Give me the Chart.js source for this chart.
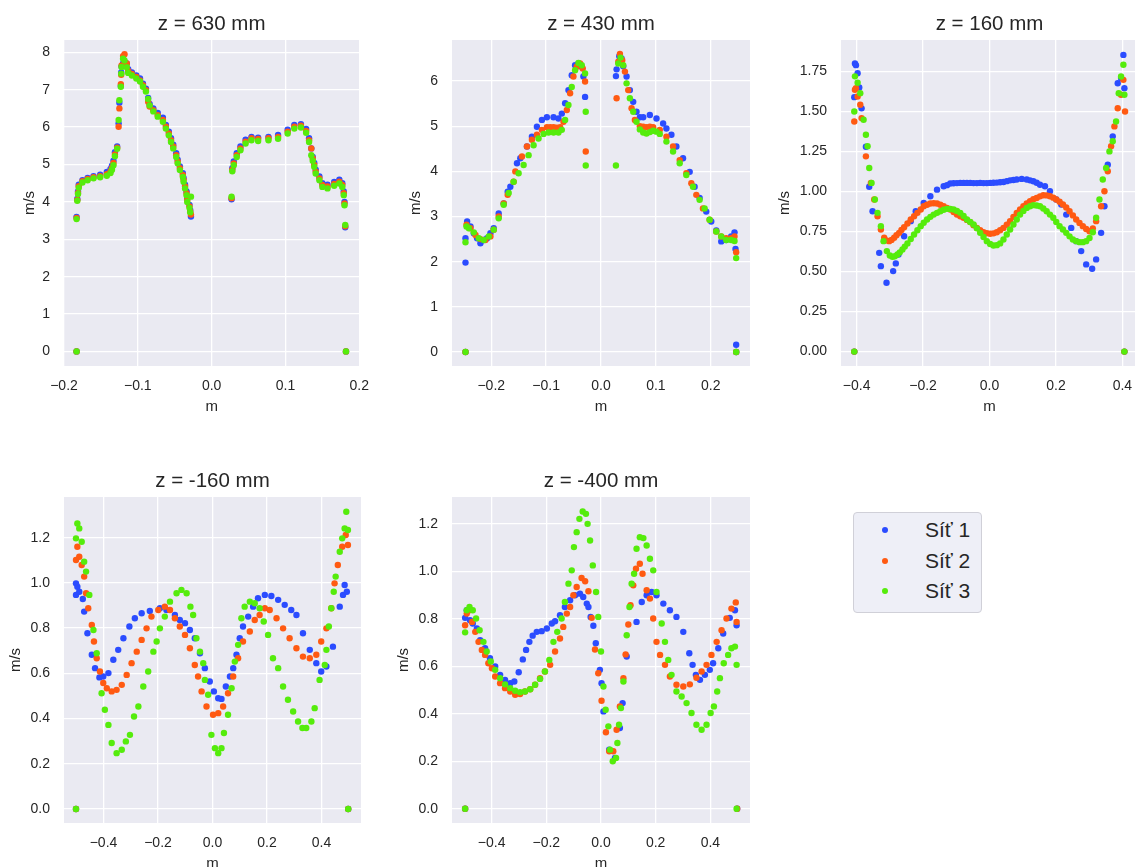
<!DOCTYPE html>
<html>
<head>
<meta charset="utf-8">
<script src="https://cdn.jsdelivr.net/npm/chart.js@4.4.1/dist/chart.umd.min.js"></script>
<style>
  html, body { margin:0; padding:0; background:#ffffff; width:1135px; height:867px; overflow:hidden; position:relative; }
  canvas { position:absolute; }
  #legend { position:absolute; left:853px; top:512px; width:127px; height:99px; border:1px solid #d0d0d8; border-radius:4px; background:#eeeff7; font-family:"Liberation Sans", Arial, sans-serif; color:#262626; }
  .li { position:absolute; left:0; height:30px; width:127px; }
  .dot { position:absolute; left:28px; width:6px; height:6px; border-radius:50%; top:12px; }
  .lt { position:absolute; left:71px; top:2px; font-size:21px; line-height:26px; }
</style>
</head>
<body>
<canvas id="c1" width="381" height="416" style="left:0px;top:0px"></canvas>
<canvas id="c2" width="388" height="416" style="left:382px;top:0px"></canvas>
<canvas id="c3" width="387" height="416" style="left:771px;top:0px"></canvas>
<canvas id="c4" width="381" height="416" style="left:0px;top:457px"></canvas>
<canvas id="c5" width="388" height="416" style="left:382px;top:457px"></canvas>
<div id="legend">
  <div class="li" style="top:2px"><div class="dot" style="background:#2b4cff"></div><div class="lt">Síť 1</div></div>
  <div class="li" style="top:33px"><div class="dot" style="background:#ff5a12"></div><div class="lt">Síť 2</div></div>
  <div class="li" style="top:63px"><div class="dot" style="background:#55ec0c"></div><div class="lt">Síť 3</div></div>
</div>
<script>
// ---------- series names & colours ----------
const seriesNames = ["Síť 1", "Síť 2", "Síť 3"];
const seriesColors = ["#2b4cff", "#ff5a12", "#55ec0c"];

// ---------- panel titles & ticks ----------
const panelTitles = ["z = 630 mm", "z = 430 mm", "z = 160 mm", "z = -160 mm", "z = -400 mm"];
const xTicksA = [-0.2, -0.1, 0, 0.1, 0.2];
const xTickLabelsA = ["\u22120.2", "\u22120.1", "0.0", "0.1", "0.2"];
const xTicksB = [-0.4, -0.2, 0, 0.2, 0.4];
const xTickLabelsB = ["\u22120.4", "\u22120.2", "0.0", "0.2", "0.4"];
const yTicks1 = [0, 1, 2, 3, 4, 5, 6, 7, 8];
const yTickLabels1 = ["0", "1", "2", "3", "4", "5", "6", "7", "8"];
const yTicks2 = [0, 1, 2, 3, 4, 5, 6];
const yTickLabels2 = ["0", "1", "2", "3", "4", "5", "6"];
const yTicks3 = [0, 0.25, 0.5, 0.75, 1.0, 1.25, 1.5, 1.75];
const yTickLabels3 = ["0.00", "0.25", "0.50", "0.75", "1.00", "1.25", "1.50", "1.75"];
const yTicks45 = [0, 0.2, 0.4, 0.6, 0.8, 1.0, 1.2];
const yTickLabels45 = ["0.0", "0.2", "0.4", "0.6", "0.8", "1.0", "1.2"];

// ---------- panel 1: z = 630 mm ----------
const p1X = [-0.183,-0.183,-0.182,-0.181,-0.180,-0.175,-0.168,-0.160,-0.151,-0.142,-0.137,-0.135,-0.133,-0.131,-0.128,-0.126,-0.125,-0.123,-0.1225,-0.122,-0.120,-0.118,-0.115,-0.113,-0.108,-0.102,-0.097,-0.093,-0.089,-0.086,-0.084,-0.079,-0.073,-0.066,-0.062,-0.058,-0.055,-0.052,-0.048,-0.046,-0.043,-0.039,-0.038,-0.036,-0.034,-0.033,-0.030,-0.029,-0.028,
  0.027,0.028,0.030,0.034,0.039,0.046,0.054,0.063,0.077,0.090,0.103,0.112,0.121,0.128,0.132,0.135,0.137,0.139,0.141,0.146,0.150,0.157,0.166,0.173,0.177,0.179,0.180,0.181,0.182];
const p1Blue = [0,3.60,4.08,4.28,4.46,4.58,4.64,4.69,4.73,4.80,4.88,4.97,5.10,5.33,5.48,6.10,6.65,7.10,7.46,7.62,7.70,7.75,7.70,7.55,7.46,7.38,7.30,7.16,7.03,6.78,6.62,6.50,6.38,6.25,6.06,5.88,5.70,5.53,5.30,5.13,4.95,4.77,4.64,4.46,4.28,4.10,3.92,3.78,3.61,
  4.07,4.90,5.08,5.30,5.48,5.66,5.74,5.72,5.74,5.79,5.93,6.06,6.08,5.95,5.70,5.43,5.20,5.04,4.86,4.68,4.50,4.46,4.53,4.59,4.50,4.28,4.00,3.32,0];
const p1Orange = [0,3.57,4.05,4.24,4.42,4.55,4.61,4.66,4.69,4.74,4.82,4.91,5.04,5.27,5.45,6.01,6.50,7.15,7.40,7.65,7.90,7.95,7.70,7.50,7.42,7.34,7.25,7.12,6.99,6.68,6.55,6.45,6.32,6.19,6.01,5.83,5.65,5.48,5.25,5.08,4.90,4.72,4.59,4.41,4.23,4.05,3.88,3.74,3.66,
  4.10,4.86,5.03,5.25,5.43,5.61,5.70,5.68,5.70,5.74,5.88,6.01,6.04,5.90,5.65,5.43,5.16,4.99,4.81,4.63,4.45,4.41,4.48,4.54,4.45,4.23,3.96,3.35,0];
const p1Green = [0,3.54,4.03,4.21,4.38,4.52,4.58,4.63,4.66,4.70,4.77,4.86,4.98,5.22,5.42,6.19,6.72,7.08,7.43,7.61,7.83,7.78,7.60,7.45,7.38,7.30,7.22,7.08,6.95,6.75,6.58,6.42,6.28,6.14,5.96,5.78,5.60,5.43,5.20,5.03,4.85,4.67,4.54,4.36,4.18,4.00,3.84,3.72,4.14,
  4.14,4.82,4.98,5.20,5.38,5.56,5.65,5.63,5.65,5.69,5.83,5.96,5.99,5.85,5.60,5.25,5.10,4.94,4.76,4.58,4.40,4.36,4.43,4.49,4.40,4.18,3.91,3.38,0];

// ---------- panel 2: z = 430 mm ----------
const p2BlueX = [-0.2469,-0.2469,-0.2469,-0.2439,-0.2378,-0.2318,-0.2257,-0.2197,-0.2136,-0.2076,-0.2015,-0.1955,-0.1864,-0.1773,-0.1700,-0.1652,-0.1531,-0.1470,-0.1349,-0.1259,-0.1168,-0.1077,-0.0986,-0.0865,-0.0775,-0.0714,-0.0654,-0.0593,-0.0533,-0.0472,-0.0411,-0.0351,-0.0321,-0.0290,
  0.0272,0.0284,0.0333,0.0375,0.0405,0.0466,0.0526,0.0587,0.0647,0.0708,0.0769,0.0890,0.1011,0.1132,0.1192,0.1283,0.1374,0.1495,0.1616,0.1706,0.1797,0.1918,0.2009,0.2100,0.2191,0.2281,0.2372,0.2433,0.2451,0.2463,0.2463];
const p2BlueY = [0,1.98,2.52,2.89,2.78,2.63,2.52,2.41,2.48,2.52,2.63,2.74,3.07,3.29,3.55,3.66,4.18,4.29,4.55,4.77,4.99,5.14,5.20,5.20,5.17,5.28,5.51,5.80,6.13,6.35,6.39,6.32,6.10,5.65,
  6.11,6.26,6.55,6.50,6.33,6.10,5.80,5.54,5.32,5.20,5.20,5.25,5.17,5.06,4.95,4.81,4.55,4.29,3.99,3.66,3.41,3.11,2.89,2.69,2.45,2.48,2.56,2.65,2.28,0.16,0];
const p2OrangeX = [-0.2469,-0.2451,-0.2378,-0.2287,-0.2197,-0.2106,-0.2015,-0.1955,-0.1864,-0.1773,-0.1700,-0.1592,-0.1561,-0.1440,-0.1349,-0.1259,-0.1168,-0.1077,-0.0986,-0.0925,-0.0865,-0.0805,-0.0744,-0.0684,-0.0623,-0.0563,-0.0502,-0.0442,-0.0381,-0.0333,-0.0290,-0.0278,
  0.0284,0.0315,0.0345,0.0387,0.0436,0.0496,0.0557,0.0617,0.0708,0.0769,0.0829,0.0890,0.0950,0.1071,0.1192,0.1313,0.1434,0.1555,0.1646,0.1737,0.1858,0.1979,0.2100,0.2191,0.2281,0.2372,0.2433,0.2463,0.2463];
const p2OrangeY = [0,2.82,2.74,2.59,2.50,2.48,2.56,2.71,3.00,3.29,3.48,3.77,4.00,4.33,4.55,4.70,4.81,4.92,4.98,4.98,4.98,4.97,4.98,5.10,5.36,5.73,6.10,6.32,6.39,6.28,5.99,4.44,
  5.62,6.43,6.60,6.46,6.21,5.80,5.40,5.14,5.00,4.99,4.98,4.99,4.98,4.92,4.77,4.55,4.25,3.96,3.74,3.48,3.18,2.93,2.67,2.56,2.52,2.52,2.56,2.21,0];
const p2GreenX = [-0.2469,-0.2469,-0.2451,-0.2408,-0.2318,-0.2227,-0.2136,-0.2045,-0.1955,-0.1864,-0.1773,-0.1682,-0.1592,-0.1501,-0.1410,-0.1319,-0.1228,-0.1138,-0.1047,-0.0956,-0.0865,-0.0775,-0.0714,-0.0654,-0.0593,-0.0533,-0.0472,-0.0411,-0.0351,-0.0290,-0.0278,-0.0278,
  0.0272,0.0315,0.0357,0.0405,0.0466,0.0526,0.0587,0.0647,0.0708,0.0769,0.0829,0.0890,0.0950,0.1011,0.1071,0.1192,0.1313,0.1434,0.1555,0.1676,0.1797,0.1888,0.1979,0.2100,0.2191,0.2281,0.2372,0.2433,0.2463,0.2463];
const p2GreenY = [0,2.43,2.78,2.74,2.65,2.52,2.48,2.56,2.71,2.96,3.26,3.52,3.77,3.96,4.14,4.36,4.58,4.73,4.83,4.86,4.86,4.86,4.92,5.14,5.47,5.87,6.24,6.40,6.35,6.17,5.32,4.13,
  4.13,6.39,6.52,6.35,5.95,5.62,5.32,5.10,4.93,4.86,4.84,4.87,4.90,4.88,4.83,4.66,4.44,4.18,3.92,3.66,3.37,3.18,2.93,2.67,2.56,2.48,2.48,2.46,2.08,0];

// ---------- panel 3: z = 160 mm ----------
const p3BlueX = [-0.407,-0.407,-0.405,-0.402,-0.397,-0.392,-0.385,-0.372,-0.362,-0.352,-0.332,-0.327,-0.310,-0.290,-0.282,-0.274,-0.257,-0.237,-0.222,-0.198,-0.178,-0.158,-0.138,-0.128,-0.118,-0.108,-0.098,-0.088,-0.078,-0.068,-0.058,-0.048,-0.038,-0.028,-0.018,-0.008,0.002,0.012,0.022,0.032,0.042,0.052,0.062,0.072,0.082,0.097,0.112,0.122,0.132,0.142,0.152,0.167,0.182,0.201,0.216,0.231,0.246,0.261,0.276,0.291,0.309,0.321,0.336,0.346,0.356,0.371,0.386,0.396,0.403,0.406,0.406];
const p3BlueY = [0,1.59,1.80,1.79,1.74,1.65,1.52,1.28,1.03,0.877,0.617,0.534,0.43,0.503,0.551,0.607,0.721,0.815,0.877,0.929,0.971,1.012,1.033,1.040,1.050,1.052,1.053,1.054,1.054,1.054,1.054,1.053,1.053,1.054,1.053,1.053,1.054,1.055,1.056,1.058,1.060,1.065,1.070,1.072,1.075,1.079,1.075,1.070,1.064,1.055,1.043,1.033,1.002,0.95,0.919,0.856,0.773,0.69,0.628,0.545,0.518,0.576,0.742,0.908,1.168,1.345,1.677,1.709,1.854,1.646,0];
const p3OrangeX = [-0.407,-0.407,-0.405,-0.402,-0.397,-0.389,-0.385,-0.372,-0.357,-0.347,-0.337,-0.327,-0.317,-0.310,-0.302,-0.295,-0.287,-0.280,-0.272,-0.265,-0.257,-0.247,-0.237,-0.227,-0.217,-0.207,-0.198,-0.188,-0.178,-0.168,-0.158,-0.148,-0.138,-0.128,-0.118,-0.108,-0.098,-0.088,-0.078,-0.068,-0.058,-0.048,-0.038,-0.028,-0.018,-0.008,0.002,0.012,0.022,0.032,0.042,0.052,0.062,0.072,0.082,0.092,0.102,0.112,0.122,0.132,0.142,0.152,0.162,0.172,0.182,0.192,0.201,0.211,0.221,0.231,0.241,0.251,0.261,0.271,0.281,0.291,0.301,0.311,0.321,0.336,0.346,0.356,0.366,0.376,0.386,0.396,0.403,0.408,0.406];
const p3OrangeY = [0,1.438,1.636,1.646,1.594,1.542,1.459,1.22,1.054,0.95,0.846,0.763,0.711,0.695,0.69,0.698,0.711,0.727,0.742,0.760,0.777,0.800,0.825,0.846,0.867,0.888,0.908,0.918,0.925,0.927,0.925,0.918,0.908,0.898,0.888,0.872,0.856,0.846,0.836,0.823,0.809,0.790,0.773,0.758,0.746,0.740,0.736,0.739,0.746,0.758,0.773,0.793,0.815,0.842,0.867,0.888,0.908,0.925,0.94,0.952,0.96,0.970,0.977,0.976,0.971,0.962,0.95,0.936,0.919,0.900,0.877,0.851,0.825,0.804,0.784,0.766,0.752,0.770,0.815,0.908,1.002,1.127,1.283,1.407,1.521,1.605,1.698,1.50,0];
const p3GreenX = [-0.407,-0.407,-0.405,-0.397,-0.389,-0.379,-0.372,-0.367,-0.362,-0.355,-0.345,-0.337,-0.327,-0.319,-0.309,-0.300,-0.292,-0.285,-0.277,-0.270,-0.262,-0.255,-0.247,-0.237,-0.227,-0.217,-0.207,-0.198,-0.188,-0.178,-0.168,-0.158,-0.148,-0.138,-0.128,-0.118,-0.108,-0.098,-0.088,-0.078,-0.068,-0.058,-0.048,-0.038,-0.028,-0.018,-0.008,0.002,0.012,0.022,0.032,0.042,0.052,0.062,0.072,0.082,0.092,0.102,0.112,0.122,0.132,0.142,0.152,0.162,0.172,0.182,0.192,0.201,0.211,0.221,0.231,0.241,0.251,0.261,0.271,0.281,0.291,0.301,0.311,0.321,0.331,0.341,0.351,0.361,0.371,0.381,0.389,0.396,0.403,0.406,0.406];
const p3GreenY = [0,1.50,1.72,1.68,1.615,1.449,1.355,1.283,1.147,1.054,0.95,0.867,0.784,0.69,0.628,0.600,0.592,0.596,0.607,0.620,0.638,0.656,0.676,0.704,0.732,0.758,0.784,0.805,0.825,0.842,0.856,0.867,0.877,0.886,0.892,0.891,0.888,0.879,0.867,0.848,0.825,0.810,0.794,0.770,0.742,0.716,0.69,0.672,0.663,0.665,0.676,0.700,0.732,0.763,0.794,0.825,0.856,0.879,0.898,0.908,0.915,0.913,0.908,0.894,0.877,0.856,0.836,0.810,0.784,0.763,0.742,0.720,0.70,0.690,0.684,0.684,0.69,0.710,0.746,0.836,0.95,1.075,1.147,1.251,1.314,1.438,1.615,1.719,1.792,1.605,0];

// ---------- panel 4: z = -160 mm ----------
const p4BlueX = [-0.501,-0.501,-0.496,-0.501,-0.489,-0.476,-0.471,-0.459,-0.443,-0.431,-0.415,-0.401,-0.382,-0.364,-0.346,-0.327,-0.305,-0.285,-0.260,-0.230,-0.193,-0.169,-0.138,-0.120,-0.101,-0.083,-0.065,-0.046,-0.028,-0.010,0.005,0.021,0.033,0.049,0.064,0.076,0.088,0.100,0.112,0.131,0.149,0.167,0.192,0.216,0.241,0.265,0.289,0.308,0.332,0.357,0.381,0.399,0.418,0.442,0.467,0.479,0.485,0.493,0.498];
const p4BlueY = [0,0.998,0.983,0.947,0.961,0.929,0.873,0.777,0.682,0.623,0.582,0.586,0.601,0.66,0.704,0.755,0.807,0.844,0.866,0.876,0.888,0.88,0.858,0.836,0.822,0.792,0.755,0.689,0.623,0.564,0.52,0.49,0.487,0.542,0.586,0.623,0.682,0.755,0.807,0.851,0.895,0.932,0.947,0.942,0.925,0.903,0.88,0.858,0.777,0.704,0.645,0.608,0.63,0.718,0.895,0.947,0.991,0.961,0];
const p4OrangeX = [-0.501,-0.501,-0.496,-0.489,-0.480,-0.471,-0.464,-0.456,-0.443,-0.435,-0.425,-0.413,-0.401,-0.388,-0.370,-0.352,-0.333,-0.315,-0.297,-0.278,-0.260,-0.242,-0.224,-0.199,-0.175,-0.156,-0.138,-0.120,-0.101,-0.083,-0.065,-0.053,-0.040,-0.022,0.002,0.021,0.039,0.057,0.076,0.094,0.112,0.137,0.155,0.173,0.192,0.210,0.235,0.259,0.283,0.308,0.332,0.357,0.381,0.399,0.418,0.436,0.448,0.460,0.476,0.489,0.497,0.498];
const p4OrangeY = [0,1.101,1.16,1.116,1.079,1.028,0.954,0.888,0.814,0.741,0.667,0.608,0.557,0.534,0.52,0.527,0.549,0.593,0.645,0.696,0.748,0.799,0.851,0.88,0.895,0.88,0.844,0.807,0.77,0.711,0.637,0.586,0.52,0.453,0.417,0.424,0.453,0.512,0.586,0.667,0.741,0.785,0.836,0.858,0.888,0.88,0.844,0.799,0.755,0.711,0.674,0.667,0.682,0.741,0.799,0.888,0.998,1.079,1.16,1.212,1.168,0];
const p4GreenX = [-0.501,-0.501,-0.496,-0.489,-0.480,-0.471,-0.464,-0.452,-0.437,-0.425,-0.407,-0.395,-0.382,-0.370,-0.352,-0.333,-0.318,-0.303,-0.288,-0.272,-0.254,-0.236,-0.217,-0.205,-0.193,-0.175,-0.156,-0.132,-0.114,-0.095,-0.081,-0.071,-0.059,-0.046,-0.034,-0.028,-0.016,-0.004,0.009,0.021,0.033,0.042,0.057,0.070,0.082,0.094,0.106,0.118,0.137,0.155,0.173,0.188,0.204,0.222,0.241,0.259,0.277,0.296,0.314,0.330,0.344,0.363,0.375,0.393,0.412,0.418,0.427,0.436,0.445,0.452,0.467,0.476,0.485,0.491,0.497,0.498];
const p4GreenY = [0,1.197,1.263,1.241,1.182,1.094,1.05,0.947,0.792,0.689,0.512,0.439,0.372,0.292,0.247,0.262,0.299,0.328,0.409,0.453,0.542,0.608,0.696,0.741,0.799,0.851,0.917,0.954,0.969,0.954,0.895,0.858,0.755,0.696,0.645,0.571,0.505,0.328,0.269,0.247,0.269,0.336,0.417,0.534,0.652,0.726,0.844,0.895,0.917,0.91,0.888,0.829,0.77,0.667,0.623,0.542,0.483,0.431,0.387,0.358,0.358,0.387,0.446,0.571,0.637,0.704,0.807,0.888,0.961,1.028,1.138,1.197,1.241,1.315,1.234,0];

// ---------- panel 5: z = -400 mm ----------
const p5BlueX = [-0.497,-0.497,-0.491,-0.479,-0.469,-0.454,-0.442,-0.424,-0.406,-0.387,-0.369,-0.351,-0.332,-0.317,-0.301,-0.286,-0.274,-0.262,-0.250,-0.235,-0.217,-0.198,-0.180,-0.168,-0.150,-0.132,-0.113,-0.095,-0.077,-0.065,-0.052,-0.046,-0.038,-0.028,-0.019,-0.004,0.002,0.009,0.030,0.051,0.069,0.079,0.094,0.130,0.149,0.167,0.185,0.203,0.228,0.252,0.276,0.301,0.323,0.335,0.347,0.362,0.380,0.398,0.410,0.429,0.447,0.471,0.490,0.496,0.498];
const p5BlueY = [0,0.804,0.836,0.794,0.78,0.759,0.71,0.676,0.634,0.599,0.564,0.543,0.529,0.536,0.575,0.629,0.669,0.703,0.729,0.745,0.748,0.759,0.78,0.79,0.815,0.85,0.878,0.899,0.906,0.892,0.864,0.85,0.808,0.771,0.697,0.585,0.529,0.41,0.249,0.214,0.34,0.445,0.641,0.787,0.871,0.899,0.913,0.899,0.864,0.836,0.808,0.745,0.655,0.606,0.564,0.543,0.564,0.585,0.613,0.676,0.738,0.804,0.836,0.773,0];
const p5OrangeX = [-0.497,-0.497,-0.491,-0.481,-0.472,-0.460,-0.448,-0.436,-0.424,-0.412,-0.399,-0.387,-0.369,-0.351,-0.332,-0.314,-0.296,-0.278,-0.259,-0.241,-0.223,-0.205,-0.186,-0.168,-0.150,-0.138,-0.125,-0.113,-0.101,-0.089,-0.071,-0.058,-0.046,-0.034,-0.022,-0.010,0.002,0.018,0.030,0.045,0.057,0.069,0.082,0.090,0.100,0.108,0.118,0.128,0.142,0.152,0.167,0.179,0.191,0.203,0.216,0.234,0.252,0.276,0.301,0.325,0.349,0.368,0.386,0.404,0.423,0.441,0.459,0.477,0.493,0.496,0.498];
const p5OrangeY = [0,0.773,0.822,0.836,0.787,0.745,0.703,0.669,0.648,0.613,0.592,0.557,0.529,0.508,0.494,0.48,0.483,0.494,0.503,0.522,0.55,0.578,0.606,0.662,0.717,0.766,0.822,0.85,0.899,0.934,0.972,0.958,0.916,0.804,0.671,0.571,0.455,0.322,0.242,0.242,0.333,0.431,0.55,0.65,0.776,0.857,0.941,1.011,1.032,0.99,0.92,0.885,0.801,0.703,0.648,0.606,0.557,0.522,0.515,0.524,0.552,0.578,0.606,0.648,0.703,0.752,0.801,0.843,0.869,0.787,0];
const p5GreenX = [-0.497,-0.497,-0.491,-0.481,-0.469,-0.457,-0.444,-0.430,-0.418,-0.403,-0.387,-0.369,-0.351,-0.332,-0.314,-0.296,-0.278,-0.259,-0.241,-0.223,-0.205,-0.189,-0.174,-0.160,-0.144,-0.132,-0.119,-0.107,-0.099,-0.089,-0.079,-0.067,-0.055,-0.049,-0.040,-0.030,-0.018,-0.010,0.000,0.009,0.017,0.027,0.033,0.043,0.055,0.060,0.066,0.073,0.082,0.094,0.104,0.112,0.121,0.130,0.142,0.155,0.167,0.179,0.191,0.203,0.222,0.234,0.246,0.258,0.276,0.295,0.313,0.331,0.349,0.368,0.386,0.401,0.413,0.425,0.435,0.449,0.465,0.477,0.490,0.496,0.496];
const p5GreenY = [0,0.743,0.836,0.85,0.836,0.801,0.752,0.703,0.662,0.62,0.585,0.55,0.524,0.508,0.497,0.491,0.494,0.503,0.522,0.547,0.578,0.627,0.703,0.745,0.801,0.871,0.948,1.004,1.102,1.165,1.221,1.252,1.242,1.2,1.13,1.025,0.913,0.808,0.662,0.515,0.417,0.347,0.249,0.2,0.214,0.277,0.354,0.424,0.536,0.731,0.85,0.948,0.99,1.095,1.144,1.14,1.109,1.053,1.004,0.913,0.78,0.703,0.627,0.564,0.494,0.473,0.445,0.403,0.354,0.333,0.354,0.403,0.431,0.494,0.55,0.613,0.648,0.676,0.683,0.606,0];

// ---------- helpers ----------
const FONT = '"Liberation Sans", Arial, Helvetica, sans-serif';
const TXT = '#262626';
function pts(xs, ys) { return xs.map((x, i) => ({ x: x, y: ys[i] })); }

const bgPlugin = {
  id: 'plotBg',
  beforeDraw(chart) {
    const a = chart.chartArea; const ctx = chart.ctx;
    ctx.save(); ctx.fillStyle = '#eaeaf2';
    ctx.fillRect(a.left, a.top, a.right - a.left, a.bottom - a.top);
    ctx.restore();
  }
};

function makePanel(id, title, series, xr, yr, xT, xL, yT, yL, yAxisW, yTitlePad) {
  const datasets = series.map((s, i) => ({
    label: seriesNames[i],
    data: s,
    backgroundColor: seriesColors[i],
    borderWidth: 0,
    pointRadius: 3.2,
    pointHoverRadius: 3.2,
    showLine: false,
    order: 3 - i
  }));
  new Chart(document.getElementById(id), {
    type: 'scatter',
    data: { datasets },
    plugins: [bgPlugin],
    options: {
      responsive: false,
      animation: false,
      events: [],
      devicePixelRatio: 1,
      layout: { padding: { left: 0, right: 20, top: 0, bottom: 0 } },
      plugins: {
        legend: { display: false },
        tooltip: { enabled: false },
        title: {
          display: true, text: title, color: TXT, fullSize: false,
          font: { family: FONT, size: 20.5, weight: 'normal' },
          padding: { top: 12.2, bottom: 3.2 }
        }
      },
      scales: {
        x: {
          type: 'linear', min: xr[0], max: xr[1],
          afterBuildTicks: (sc) => { sc.ticks = xT.map(v => ({ value: v })); },
          afterFit: (sc) => { sc.height = 50; },
          ticks: { callback: (v, i) => xL[i], color: TXT, font: { family: FONT, size: 14 }, padding: 12, maxRotation: 0, autoSkip: false },
          grid: { color: '#ffffff', lineWidth: 1.3, drawTicks: false },
          border: { display: false },
          title: { display: true, text: 'm', color: TXT, font: { family: FONT, size: 15 }, padding: { top: 0, bottom: 0.5 } }
        },
        y: {
          type: 'linear', min: yr[0], max: yr[1],
          afterBuildTicks: (sc) => { sc.ticks = yT.map(v => ({ value: v })); },
          afterFit: (sc) => { sc.width = yAxisW; },
          ticks: { callback: (v, i) => yL[i], color: TXT, font: { family: FONT, size: 14 }, padding: 14, autoSkip: false },
          grid: { color: '#ffffff', lineWidth: 1.3, drawTicks: false },
          border: { display: false },
          title: { display: true, text: 'm/s', color: TXT, font: { family: FONT, size: 15 }, padding: { top: yTitlePad, bottom: 0 } }
        }
      }
    }
  });
}

makePanel('c1', panelTitles[0], [pts(p1X, p1Blue), pts(p1X, p1Orange), pts(p1X, p1Green)],
  [-0.2, 0.2], [-0.39, 8.33], xTicksA, xTickLabelsA, yTicks1, yTickLabels1, 64, 21);
makePanel('c2', panelTitles[1], [pts(p2BlueX, p2BlueY), pts(p2OrangeX, p2OrangeY), pts(p2GreenX, p2GreenY)],
  [-0.2715, 0.2715], [-0.31, 6.91], xTicksA, xTickLabelsA, yTicks2, yTickLabels2, 70, 25);
makePanel('c3', panelTitles[2], [pts(p3BlueX, p3BlueY), pts(p3OrangeX, p3OrangeY), pts(p3GreenX, p3GreenY)],
  [-0.447, 0.447], [-0.09, 1.947], xTicksB, xTickLabelsB, yTicks3, yTickLabels3, 70, 5);
makePanel('c4', panelTitles[3], [pts(p4BlueX, p4BlueY), pts(p4OrangeX, p4OrangeY), pts(p4GreenX, p4GreenY)],
  [-0.545, 0.545], [-0.062, 1.38], xTicksB, xTickLabelsB, yTicks45, yTickLabels45, 64, 7);
makePanel('c5', panelTitles[4], [pts(p5BlueX, p5BlueY), pts(p5OrangeX, p5OrangeY), pts(p5GreenX, p5GreenY)],
  [-0.545, 0.545], [-0.06, 1.313], xTicksB, xTickLabelsB, yTicks45, yTickLabels45, 70, 13);
</script>
</body>
</html>
